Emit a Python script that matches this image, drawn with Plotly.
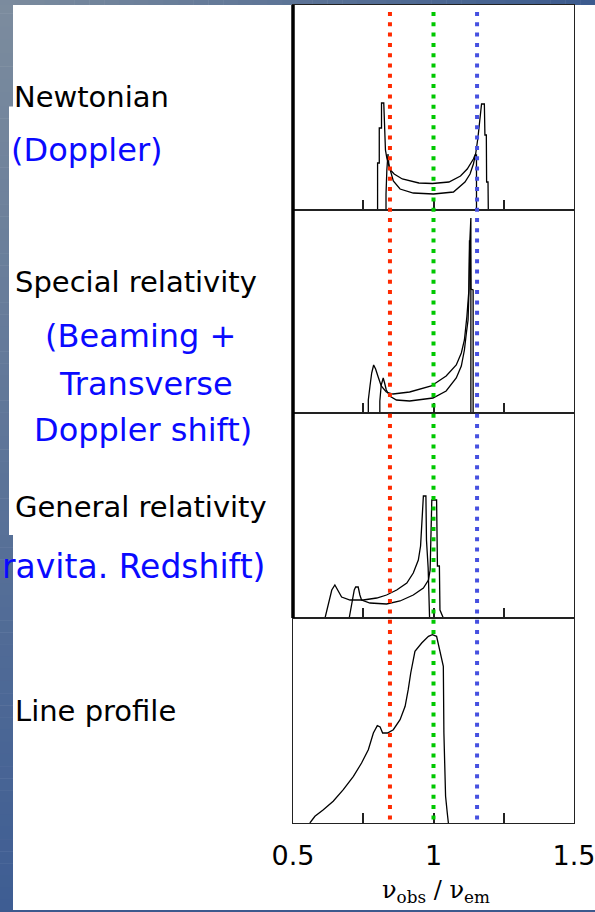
import plotly.graph_objects as go

# ---------------- data (relative flux, arbitrary units) ----------------
panel_labels = ["Newtonian", "Special relativity", "General relativity", "Line profile"]
x_major_vals = [0.5, 1.0, 1.5]
x_major_text = ["0.5", "1", "1.5"]
x_minor_vals = [0.75, 1.0, 1.25]
marker_lines = [0.845, 1.0, 1.155]  # red, green, blue reference frequencies

newton_a_x = [0.801, 0.801, 0.807, 0.807, 0.815, 0.815, 0.823, 0.826, 0.829, 0.834, 0.839, 0.848, 0.857,
              0.881, 0.928, 1.000, 1.071, 1.112, 1.130, 1.142, 1.150, 1.158, 1.165, 1.171, 1.181, 1.183,
              1.188, 1.189, 1.194, 1.195]
newton_a_y = [0, 47, 47, 82, 82, 107, 107, 90, 60, 52, 47, 36, 29,
              21, 17, 16, 18, 28, 36, 46, 56, 72, 90, 106, 106, 75,
              75, 28, 28, 0]
newton_b_x = [0.831, 0.831, 0.834, 0.838, 0.842, 0.850, 0.860, 0.889, 0.948, 0.996, 1.055, 1.096, 1.120,
              1.132, 1.142, 1.148, 1.153, 1.153]
newton_b_y = [0, 16, 40, 56, 43, 39, 36, 31, 27, 26.5, 28, 34, 41,
              46, 51, 55, 55, 0]

sr_a_x = [0.768, 0.768, 0.774, 0.780, 0.787, 0.794, 0.802, 0.814, 0.832, 0.856, 0.915, 0.992, 1.045,
          1.081, 1.099, 1.110, 1.119, 1.126, 1.129, 1.131, 1.133, 1.133]
sr_a_y = [0, 13, 27, 40, 48, 44, 37, 27, 21, 19, 21, 27, 37,
          48, 60, 73, 97, 123, 170, 195, 195, 0]
sr_b_x = [0.809, 0.809, 0.814, 0.818, 0.821, 0.826, 0.832, 0.844, 0.868, 0.915, 0.998, 1.045, 1.081,
          1.099, 1.110, 1.117, 1.123, 1.126, 1.128, 1.131, 1.133, 1.141, 1.141]
sr_b_y = [0, 12, 28, 34, 35, 30, 23, 17, 13, 12, 15, 22, 35,
          47, 63, 80, 93, 120, 172, 172, 124, 123, 0]

gr_a_x = [0.614, 0.626, 0.638, 0.649, 0.661, 0.673, 0.703, 0.750, 0.798, 0.833, 0.869, 0.905, 0.928,
          0.946, 0.954, 0.958, 0.962, 0.964, 0.973, 0.975, 0.981, 0.986]
gr_a_y = [0, 15, 28, 33, 27, 21, 18, 18, 20, 23, 28, 35, 45,
          58, 72, 88, 108, 122, 122, 78, 50, 0]
gr_b_x = [0.700, 0.709, 0.718, 0.723, 0.732, 0.738, 0.744, 0.774, 0.833, 0.881, 0.928, 0.964, 0.982,
          0.988, 0.994, 1.011, 1.014, 1.021, 1.023, 1.035]
gr_b_y = [0, 13, 28, 31, 31, 23, 18, 15, 14, 17, 23, 30, 38,
          48, 118, 118, 52, 52, 8, 0]

profile_x = [0.560, 0.578, 0.608, 0.643, 0.679, 0.715, 0.744, 0.768, 0.786, 0.800, 0.810, 0.819, 0.836,
             0.857, 0.881, 0.899, 0.910, 0.919, 0.934, 0.958, 0.982, 0.996, 1.011, 1.023, 1.035, 1.037,
             1.043, 1.049, 1.053]
profile_y = [0, 6.7, 13.3, 21.7, 33.3, 46.7, 60, 73.3, 90, 97.3, 96, 90, 90,
             93.3, 103.3, 116.7, 133.3, 150, 171.7, 180, 186.7, 188.3, 186.7, 171.7, 156.7, 90,
             26.7, 10, 0]

# ---------------- layout helpers ----------------
W, H = 595, 912


def fx(px):
    return px / W


def fy(py):
    return 1 - py / H


panels = [(5, 210), (210, 413), (413, 618), (618, 823)]
x_left, x_right = 293, 574
panel_series = [
    [(newton_a_x, newton_a_y), (newton_b_x, newton_b_y)],
    [(sr_a_x, sr_a_y), (sr_b_x, sr_b_y)],
    [(gr_a_x, gr_a_y), (gr_b_x, gr_b_y)],
    [(profile_x, profile_y)],
]

fig = go.Figure()
layout = dict(
    template="none",
    width=W, height=H, margin=dict(l=0, r=0, t=0, b=0, pad=0, autoexpand=False),
    paper_bgcolor="white", plot_bgcolor="white", showlegend=False,
)

for i, ((top, bot), series) in enumerate(zip(panels, panel_series), start=1):
    for xs, ys in series:
        fig.add_trace(go.Scatter(x=xs, y=ys, mode="lines",
                                 line=dict(color="black", width=1.3),
                                 xaxis=f"x{i}", yaxis=f"y{i}", hoverinfo="skip"))
    last = i == 4
    ax = dict(
        domain=[fx(x_left), fx(x_right)], range=[0.5, 1.5], anchor=f"y{i}",
        showline=True, mirror=True, linecolor="#222", linewidth=1.2,
        showgrid=False, zeroline=False, automargin=False,
    )
    if last:
        ax.update(
            tickmode="array", tickvals=x_major_vals, ticktext=x_major_text,
            ticks="inside", ticklen=10, tickwidth=1.5, tickcolor="#222",
            showticklabels=True, ticklabeloverflow="allow",
            tickfont=dict(family="DejaVu Sans", size=27, color="black"),
            ticklabelstandoff=8,
            minor=dict(tickmode="array", tickvals=x_minor_vals, ticks="inside",
                       ticklen=10, tickwidth=1.5, tickcolor="#222", showgrid=False),
        )
    else:
        ax.update(
            tickmode="array", tickvals=x_minor_vals, ticks="inside", ticklen=10,
            tickwidth=1.5, tickcolor="#222", showticklabels=False,
        )
    layout[f"xaxis{i}"] = ax
    layout[f"yaxis{i}"] = dict(
        domain=[fy(bot), fy(top)], range=[0, bot - top], anchor=f"x{i}",
        showline=True, mirror=True, linecolor="#222", linewidth=1.2,
        ticks="", showticklabels=False, showgrid=False, zeroline=False, automargin=False,
    )

fig.update_layout(**layout)

shapes = []


def hexrgb(c):
    c = c.lstrip("#")
    return [int(c[k:k + 2], 16) for k in (0, 2, 4)]


def lerp(c1, c2, t):
    a, b = hexrgb(c1), hexrgb(c2)
    return "rgb(%d,%d,%d)" % tuple(round(a[k] + (b[k] - a[k]) * t) for k in range(3))


# slide decoration: left strip (vertical gradient)
c_top, c_bot = "#7c8c9e", "#3e5d93"
for y0, y1, wpx in [(0, 106, 13), (106, 535, 9), (535, 912, 13)]:
    n = max(2, int((y1 - y0) / 12))
    for k in range(n):
        a = y0 + (y1 - y0) * k / n
        b = y0 + (y1 - y0) * (k + 1) / n
        col = lerp(c_top, c_bot, ((a + b) / 2) / H)
        shapes.append(dict(type="rect", xref="paper", yref="paper", x0=0, x1=fx(wpx),
                           y0=fy(b + 0.5), y1=fy(a), fillcolor=col, line=dict(width=0), layer="below"))
# top strip (horizontal gradient)
n = 40
for k in range(n):
    a = W * k / n
    b = W * (k + 1) / n
    col = lerp("#7c8c9e", "#3b5a8e", ((a + b) / 2) / W)
    shapes.append(dict(type="rect", xref="paper", yref="paper", x0=fx(a), x1=fx(b + 0.5),
                       y0=fy(5), y1=1, fillcolor=col, line=dict(width=0), layer="below"))
# bottom strip
shapes.append(dict(type="rect", xref="paper", yref="paper", x0=0, x1=1, y0=0, y1=fy(910),
                   fillcolor="#3c5a8e", line=dict(width=0), layer="below"))

# thick left frame for upper three panels
shapes.append(dict(type="line", xref="paper", yref="paper", x0=fx(x_left), x1=fx(x_left),
                   y0=fy(618), y1=fy(5), line=dict(color="black", width=3.5)))

# dotted reference lines
for v, col in zip(marker_lines, ["#ff2a00", "#00c800", "#4650e0"]):
    shapes.append(dict(type="line", xref="x", yref="paper", x0=v, x1=v,
                       y0=fy(12), y1=fy(821), line=dict(color=col, width=4, dash="4px,6.3px")))

fig.update_layout(shapes=shapes)

# text annotations
black_font = dict(family="DejaVu Sans", size=29, color="black")
blue_font = dict(family="DejaVu Sans", size=32, color="#0a0aff")
annos = [
    (panel_labels[0], 12, 97, "left", black_font),
    ("(Doppler)", 9, 150, "left", blue_font),
    (panel_labels[1], 13, 282, "left", black_font),
    ("(Beaming +", 140, 336, "center", blue_font),
    ("Transverse", 146, 384, "center", blue_font),
    ("Doppler shift)", 143, 430, "center", blue_font),
    (panel_labels[2], 13, 507, "left", black_font),
    ("ravita. Redshift)", 0, 566, "left", dict(blue_font, size=33)),
    (panel_labels[3], 13, 711, "left", black_font),
]
for txt, x, y, anc, font in annos:
    fig.add_annotation(text=txt, x=fx(x), y=fy(y), xref="paper", yref="paper",
                       xanchor=anc, yanchor="middle", showarrow=False, font=font)

fig.add_annotation(text="ν<sub>obs</sub> / ν<sub>em</sub>", x=fx(436), y=fy(891), xref="paper", yref="paper",
                   xanchor="center", yanchor="middle", showarrow=False,
                   font=dict(family="DejaVu Serif", size=24, color="black"))

fig.write_html("out.html", config={"displayModeBar": False},
               post_script="document.body.style.margin='0';")
